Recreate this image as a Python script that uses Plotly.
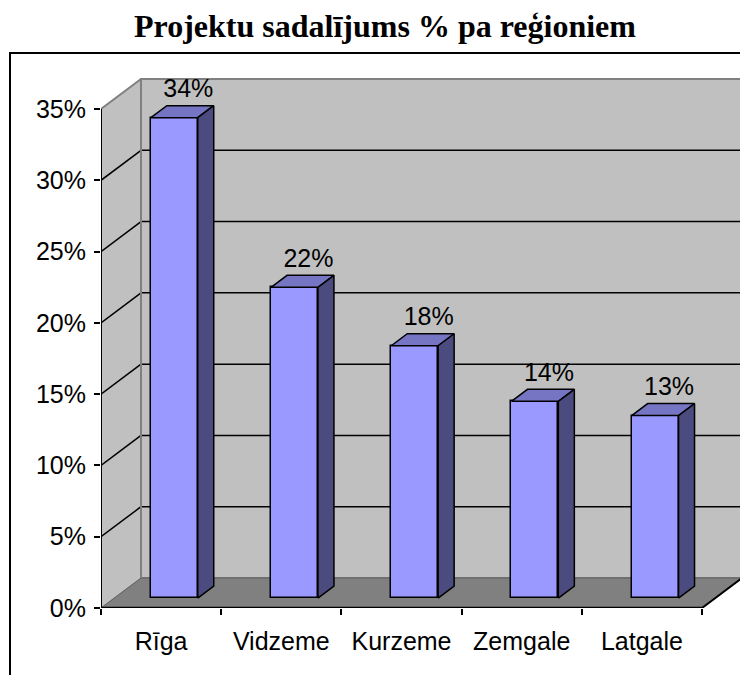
import plotly.graph_objects as go

# ---------------- data ----------------
categories = ["Rīga", "Vidzeme", "Kurzeme", "Zemgale", "Latgale"]
shares = [0.337, 0.218, 0.177, 0.138, 0.128]
y_ticks = [0, 0.05, 0.10, 0.15, 0.20, 0.25, 0.30, 0.35]
y_tick_labels = ["0%", "5%", "10%", "15%", "20%", "25%", "30%", "35%"]
title_text = "Projektu sadalījums % pa reģioniem"

# ---------------- geometry / style ----------------
OFF = 8               # page body margin
W, H = 748 - OFF, 675 - OFF
ML = 101 - OFF
MT = 60 - OFF
MB = H - (608 - OFF)
MR = W - (745 - OFF)
PX_X = 120.2          # pixels per category
PX_Y = 1425.7         # pixels per unit of share
plot_w = W - ML - MR
plot_h = H - MT - MB
x_max = plot_w / PX_X
y_max = plot_h / PX_Y
DX = 40 / PX_X        # depth offset (x)
DY = 30 / PX_Y        # depth offset (y)
N = len(categories)
YTOP = max(y_ticks)
F_FRONT = 0.33
F_DEPTH = 0.40
BAR_W = 0.39

WALL = "#C0C0C0"
FLOOR = "#808080"
EDGE = "#808080"
FRONT = "#9999FF"
TOP = "#7575C4"
SIDE = "#4B4B80"
FONT = "Liberation Sans, Arial, sans-serif"
FS = 25

shapes = []
# back wall
shapes.append(dict(type="rect", xref="x", yref="y", x0=DX, y0=DY, x1=N + DX, y1=YTOP + DY,
                   fillcolor=WALL, line=dict(color=EDGE, width=2), layer="below"))
# side wall
shapes.append(dict(type="path", xref="x", yref="y",
                   path=f"M 0,0 L {DX},{DY} L {DX},{YTOP + DY} L 0,{YTOP} Z",
                   fillcolor=WALL, line=dict(color=EDGE, width=1), layer="below"))
# floor
shapes.append(dict(type="path", xref="x", yref="y",
                   path=f"M 0,0 L {N},0 L {N + DX},{DY} L {DX},{DY} Z",
                   fillcolor=FLOOR, line=dict(color="#606060", width=1), layer="below"))
# gridlines
for v in y_ticks[1:-1]:
    shapes.append(dict(type="line", xref="x", yref="y", x0=DX, y0=v + DY, x1=N + DX, y1=v + DY,
                       line=dict(color="black", width=1.5), layer="below"))
    shapes.append(dict(type="line", xref="x", yref="y", x0=0, y0=v, x1=DX, y1=v + DY,
                       line=dict(color="black", width=1.5), layer="below"))
# wall edges
shapes.append(dict(type="line", xref="x", yref="y", x0=0, y0=YTOP, x1=DX, y1=YTOP + DY,
                   line=dict(color=EDGE, width=2), layer="below"))
shapes.append(dict(type="line", xref="x", yref="y", x0=DX, y0=DY, x1=DX, y1=YTOP + DY,
                   line=dict(color=EDGE, width=2), layer="below"))
# axis lines
shapes.append(dict(type="line", xref="x", yref="y", x0=0, y0=0, x1=0, y1=YTOP,
                   line=dict(color="black", width=2), layer="below"))
shapes.append(dict(type="line", xref="x", yref="y", x0=0, y0=0, x1=N, y1=0,
                   line=dict(color="black", width=2.5), layer="below"))
shapes.append(dict(type="line", xref="x", yref="y", x0=N, y0=0, x1=N + DX, y1=DY,
                   line=dict(color="black", width=2), layer="below"))
# chart area border
shapes.append(dict(type="rect", xref="paper", yref="paper",
                   x0=(10 - OFF - ML) / plot_w, x1=(770 - OFF - ML) / plot_w,
                   y0=(H - MB - 700) / plot_h, y1=(H - MB - (53 - OFF)) / plot_h,
                   line=dict(color="black", width=2), fillcolor="rgba(0,0,0,0)"))

fig = go.Figure()

centers = [i + 0.5 + F_FRONT * DX for i in range(N)]
base = F_FRONT * DY
fig.add_trace(go.Bar(x=centers, y=shares, base=[base] * N, width=BAR_W,
                     marker=dict(color=FRONT, line=dict(color="black", width=1.5)),
                     showlegend=False, hoverinfo="skip"))

ddx = F_DEPTH * DX
ddy = F_DEPTH * DY
for c, v in zip(centers, shares):
    x0, x1 = c - BAR_W / 2, c + BAR_W / 2
    top = base + v
    fig.add_trace(go.Scatter(x=[x0, x1, x1 + ddx, x0 + ddx, x0],
                             y=[top, top, top + ddy, top + ddy, top],
                             mode="lines", fill="toself", fillcolor=TOP,
                             line=dict(color="black", width=1.5),
                             showlegend=False, hoverinfo="skip"))
    fig.add_trace(go.Scatter(x=[x1, x1 + ddx, x1 + ddx, x1, x1],
                             y=[base, base + ddy, top + ddy, top, base],
                             mode="lines", fill="toself", fillcolor=SIDE,
                             line=dict(color="black", width=1.5),
                             showlegend=False, hoverinfo="skip"))

# data labels
fig.add_trace(go.Scatter(x=[c + 14 / PX_X for c in centers],
                         y=[base + v + 27 / PX_Y for v in shares],
                         mode="text", text=[f"{round(v * 100)}%" for v in shares],
                         textposition="middle center",
                         textfont=dict(family=FONT, size=FS, color="black"),
                         showlegend=False, hoverinfo="skip", cliponaxis=False))

# invisible trace for the tick-mark axis
fig.add_trace(go.Scatter(x=[0], y=[0], xaxis="x2", mode="markers",
                         marker=dict(opacity=0), showlegend=False, hoverinfo="skip"))

fig.update_layout(
    width=W, height=H,
    margin=dict(l=ML, r=MR, t=MT, b=MB),
    paper_bgcolor="white", plot_bgcolor="white",
    shapes=shapes,
    title=dict(text=f"<b>{title_text}</b>", x=(385 - OFF) / W, xanchor="center",
               xref="container", yref="container", y=1 - (26 - OFF) / H, yanchor="middle",
               font=dict(family="Liberation Serif, Times New Roman, serif", size=32, color="black")),
    xaxis=dict(range=[0, x_max], tickvals=[i + 0.5 for i in range(N)], ticktext=categories,
               ticks="outside", ticklen=11, tickcolor="rgba(0,0,0,0)",
               showgrid=False, zeroline=False, showline=False,
               tickfont=dict(family=FONT, size=FS, color="black")),
    xaxis2=dict(range=[0, x_max], overlaying="x", anchor="y", side="bottom",
                tickvals=list(range(N + 1)), ticks="outside", ticklen=6, tickwidth=1.5,
                tickcolor="black", showticklabels=False, showgrid=False, zeroline=False,
                showline=False),
    yaxis=dict(range=[0, y_max], tickvals=y_ticks, ticktext=y_tick_labels,
               ticks="outside", ticklen=6, tickwidth=1.5, tickcolor="black",
               ticklabelstandoff=3,
               showgrid=False, zeroline=False, showline=False,
               tickfont=dict(family=FONT, size=FS, color="black")),
    bargap=0,
)

fig.write_html("out.html")
